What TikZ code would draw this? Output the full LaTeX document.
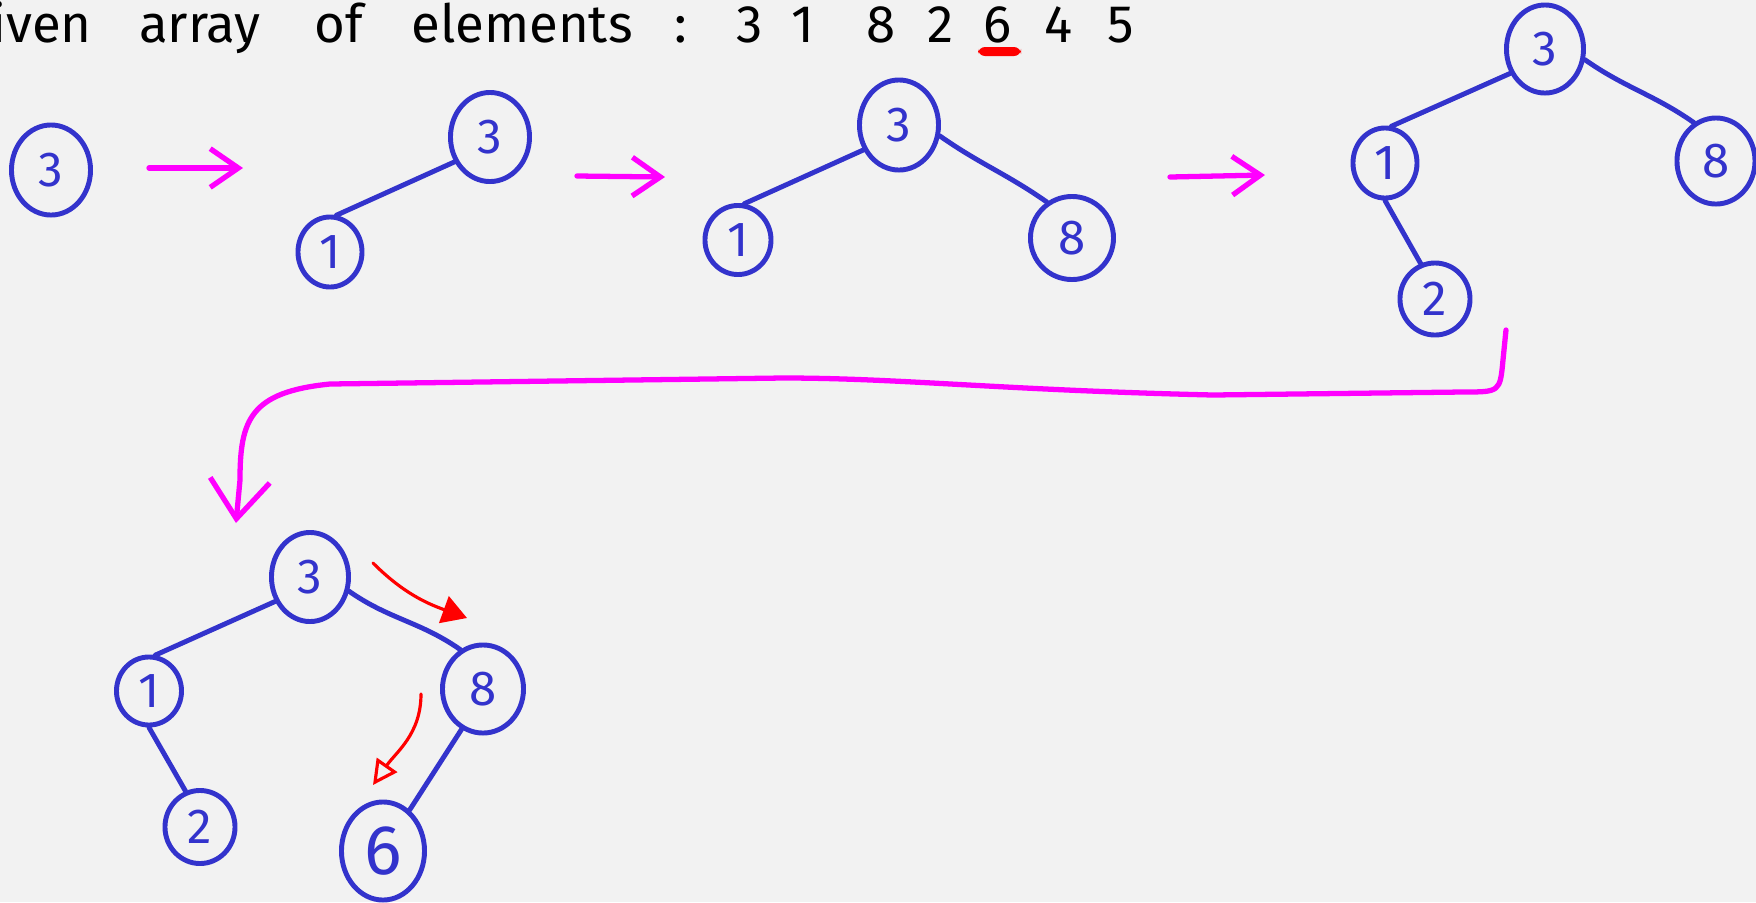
\documentclass[tikz,border=0pt]{standalone}
\usepackage{fontspec}
\setmainfont{Fira Sans}
\usetikzlibrary{shapes.geometric, arrows.meta}

\definecolor{inkblue}{RGB}{51,51,204}
\definecolor{inkpink}{RGB}{255,0,255}
\definecolor{inkred}{RGB}{255,0,0}
\definecolor{paper}{RGB}{242,242,242}

\tikzset{
  keynode/.style = {shape=ellipse, draw=inkblue, line width=1.4pt,
                    text=inkblue, inner sep=0pt,
                    font=\fontsize{14}{16}\selectfont},
  dims/.style 2 args = {minimum width=#1, minimum height=#2},
  link/.style = {draw=inkblue, line width=1.4pt, line cap=round},
  stagearrow/.style = {draw=inkpink, line width=1.5pt, line cap=round,
                       line join=round,
                       -{Straight Barb[length=8pt,width=11pt]}},
  hint/.style = {draw=inkred, line width=0.9pt, line cap=round},
  word/.style = {anchor=base, inner sep=0pt, text=black,
                 font=\fontsize{15}{18}\selectfont}
}

\begin{document}
\begin{tikzpicture}[x=0.01cm, y=-0.01cm]
    \useasboundingbox (0,0) rectangle (1756,902);
    \clip (0,0) rectangle (1756,902);
    \fill [paper] (0,0) rectangle (1756,902);

    % heading with the input sequence
    \foreach \x/\w [count=\i] in {25/Given, 200/array, 339/of, 522/elements, 681/:}
        \node (w\i) [word] at (\x,42) {\w};
    \foreach \x/\d in {750/3, 803/1, 881/8, 941/2, 998/6, 1059/4, 1121/5}
        \node (n\d) [word] at (\x,42) {\d};
    \fill [inkred, rounded corners=2pt] (978,47) rectangle (1021,56);

    % step 1
    \node (a3) [keynode, dims={0.79cm}{0.90cm}] at (51,170) {3};

    % step 2
    \node (b3) [keynode, dims={0.79cm}{0.89cm}] at (490,137) {3};
    \node (b1) [keynode, dims={0.64cm}{0.70cm}] at (330,252) {1};
    \draw [link] (b3.215) -- (b1.80);

    % step 3
    \node (c3) [keynode, dims={0.79cm}{0.90cm}] at (899,125) {3};
    \node (c1) [keynode, dims={0.66cm}{0.69cm}] at (738,240) {1};
    \node (c8) [keynode, dims={0.83cm}{0.83cm}] at (1072,238) {8};
    \draw [link] (c3.215) -- (c1.80);
    \draw [link] (c3.-15) to[out=-35, in=145] (c8.125);

    % step 4
    \node (d3) [keynode, dims={0.77cm}{0.88cm}] at (1545,49) {3};
    \node (d1) [keynode, dims={0.64cm}{0.70cm}] at (1385,163) {1};
    \node (d8) [keynode, dims={0.78cm}{0.86cm}] at (1716,161) {8};
    \node (d2) [keynode, dims={0.70cm}{0.72cm}] at (1435,299) {2};
    \draw [link] (d3.215) -- (d1.80);
    \draw [link] (d3.-15) to[out=-35, in=145] (d8.120);
    \draw [link] (d1.south) -- (d2.112);

    % step 5, inserting 6
    \node (e3) [keynode, dims={0.77cm}{0.89cm}] at (310,577) {3};
    \node (e1) [keynode, dims={0.65cm}{0.68cm}] at (149,691) {1};
    \node (e8) [keynode, dims={0.81cm}{0.88cm}] at (483,689) {8};
    \node (e2) [keynode, dims={0.70cm}{0.73cm}] at (200,827) {2};
    \node (e6) [keynode, dims={0.83cm}{0.98cm},
                font=\fontsize{20}{22}\selectfont] at (383,851) {6};
    \draw [link] (e3.215) -- (e1.80);
    \draw [link] (e3.-20) to[out=-35, in=145] (e8.120);
    \draw [link] (e1.south) -- (e2.112);
    \draw [link] (e8.242) -- (e6.57);

    % arrows between the steps
    \coordinate (s1) at (149,168);
    \coordinate (t1) at (243,168);
    \coordinate (s2) at (577,176);
    \coordinate (t2) at (665,177);
    \coordinate (s3) at (1170,177);
    \coordinate (t3) at (1265,175);
    \coordinate (s4) at (1506,330);
    \coordinate (t4) at (236,523);
    \draw [stagearrow] (s1) -- (t1);
    \draw [stagearrow] (s2) -- (t2);
    \draw [stagearrow] (s3) -- (t3);
    \draw [stagearrow, -{Straight Barb[length=11pt,width=17pt]}]
        (s4) -- (1503,360) .. controls (1500,392) .. (1463,392)
        -- (1213,395) .. controls (1000,390) and (900,378) .. (783,378)
        -- (330,384) .. controls (250,392) and (240,420) .. (240,480)
        -- (t4);

    % where 6 goes
    \coordinate (h1s) at (373,563);
    \coordinate (h1e) at (467,618);
    \coordinate (h2s) at (421,694);
    \coordinate (h2e) at (373,785);
    \draw [hint, -{Triangle[length=7pt,width=8pt]}]
        (h1s) to[out=-45, in=160] (h1e);
    \draw [hint, -{Triangle[open,length=7pt,width=7pt]}]
        (h2s) to[out=-90, in=55] (h2e);
\end{tikzpicture}
\end{document}
